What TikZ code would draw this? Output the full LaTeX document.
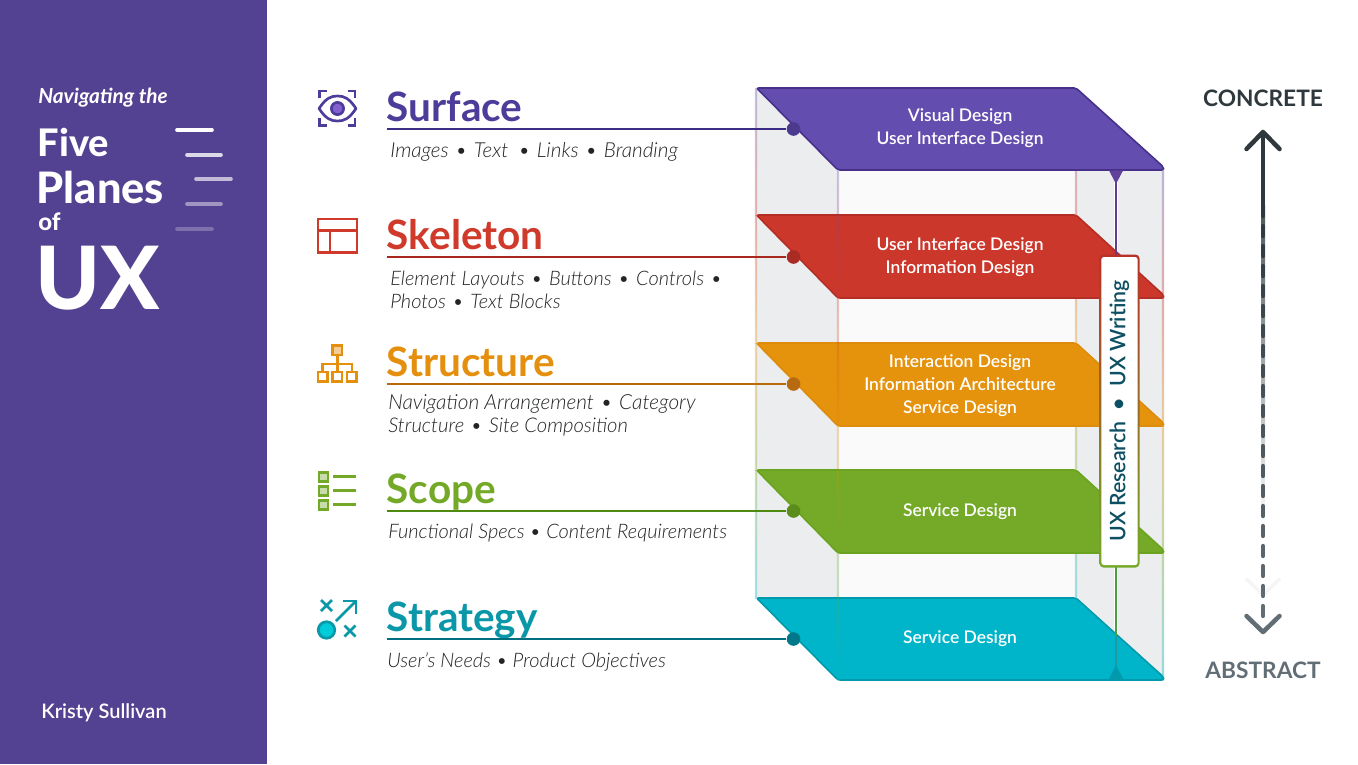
\documentclass[tikz,border=0pt]{standalone}
\usepackage{fontspec}
\setmainfont{Lato}
\newfontfamily\latol[ItalicFont={Lato Light Italic}]{Lato Light}
\newfontfamily\latom{Lato Semibold}
\newfontfamily\latoh{Lato Heavy}
\definecolor{panel}{HTML}{534191}
\definecolor{cpur}{HTML}{634EB0}\definecolor{cred}{HTML}{CC372C}\definecolor{cora}{HTML}{E5920D}\definecolor{cgre}{HTML}{74AA28}\definecolor{ctea}{HTML}{00B5C9}
\definecolor{epur}{HTML}{47308A}\definecolor{ered}{HTML}{B52E24}\definecolor{eora}{HTML}{DD8C0C}\definecolor{egre}{HTML}{69A31F}\definecolor{etea}{HTML}{009AAC}
\definecolor{lpur}{HTML}{3D2C85}\definecolor{lred}{HTML}{A82820}\definecolor{lora}{HTML}{B8690A}\definecolor{lgre}{HTML}{4F8A10}\definecolor{ltea}{HTML}{006D80}
\definecolor{dpur}{HTML}{4B3A8E}\definecolor{dred}{HTML}{AA2A24}\definecolor{dora}{HTML}{B86A10}\definecolor{dgre}{HTML}{5B8D1A}\definecolor{dtea}{HTML}{00788A}
\definecolor{tpur}{HTML}{4E3C9A}\definecolor{tred}{HTML}{CF3A2B}\definecolor{tora}{HTML}{E58F0E}\definecolor{tgre}{HTML}{74A927}\definecolor{ttea}{HTML}{0A97A8}
\definecolor{sidegray}{HTML}{ECEDEF}\definecolor{backw}{HTML}{FAFAFB}
\definecolor{arrdark}{HTML}{2F383D}\definecolor{arrlow}{HTML}{626E75}\definecolor{uxtext}{HTML}{0D4F63}\definecolor{subt}{HTML}{222426}
\definecolor{eyefill}{HTML}{8360D0}
\definecolor{ltop}{HTML}{5F3D90}\definecolor{lbot}{HTML}{4AA03C}\definecolor{lin}{HTML}{1C9AA2}
\newcommand{\sepd}{\kern1pt•\kern1pt}
\tikzset{
 x=0.75pt,y=-0.75pt,
 titletext/.style={anchor=base west,inner sep=0pt,font=\fontsize{30.4}{33}\selectfont\bfseries},
 subtext/.style={anchor=base west,inner sep=0pt,font=\latol\fontsize{15}{18}\selectfont\itshape,text=subt},
 planetext/.style={white,inner sep=0pt,align=center,font=\latom\fontsize{13.1}{17.25}\selectfont},
 paneltext/.style={white,anchor=base west,inner sep=0pt},
 leader/.style={line width=2.2pt},
 planedot/.style={circle,inner sep=0pt,minimum size=10.2pt},
 planeshape/.style={line width=1.2pt,rounded corners=1.5pt,line join=round},
 panelbar/.style={white,line width=2.7pt,line cap=round},
 iconline/.style={line width=2pt},
 arrowhead/.style={line width=3.4pt,line cap=round,line join=round},
 dashpiece/.style={line width=3.2pt,line cap=round},
}
\begin{document}
\begin{tikzpicture}
\useasboundingbox (0,0) rectangle (1358,764);
\fill[white] (0,0) rectangle (1358,764);
\fill[panel] (0,0) rectangle (267,764);
% panel text
\node[paneltext,font=\fontsize{15.6}{18}\selectfont\bfseries\itshape] (nav) at (38,103) {Navigating the};
\node[paneltext,font=\latoh\fontsize{28.5}{30}\selectfont] (five) at (37.5,156) {Five};
\node[paneltext,font=\latoh\fontsize{32.5}{34}\selectfont] (planes) at (36.5,203) {Planes};
\node[paneltext,font=\latoh\fontsize{18}{20}\selectfont] (of) at (38,230) {of};
\node[paneltext,font=\latoh\fontsize{65.5}{68}\selectfont] (ux) at (35,309) {UX};
\node[paneltext,font=\latom\fontsize{15}{18}\selectfont] (author) at (41,718) {Kristy Sullivan};
\draw[panelbar] (177,130) -- (212,130);
\draw[panelbar,opacity=.8] (187,155) -- (221,155);
\draw[panelbar,opacity=.65] (196,179) -- (231,179);
\draw[panelbar,opacity=.45] (187,204) -- (221,204);
\draw[panelbar,opacity=.25] (177,229) -- (212,229);
% cube faces
\fill[backw] (838,170) rectangle (1076,598);
\fill[sidegray] (756,88) -- (838,170) -- (838,680) -- (756,598) -- cycle;
\fill[sidegray] (1076,88) -- (1164,170) -- (1164,680) -- (1076,598) -- cycle;
% edges behind the planes
\foreach \xx/\bx in {756/0,1076/0}{
 \foreach \ya/\yb/\ca/\cb in {88/215/cpur/cred,215/343/cred/cora,343/470/cora/cgre,470/598/cgre/ctea}{
  \shade[opacity=.35,top color=\ca,bottom color=\cb] (\xx-1.2,\ya) rectangle (\xx+1.2,\yb);
 }
}
\foreach \ya/\yb/\ca/\cb in {170/298/cpur/cred,298/426/cred/cora,426/553/cora/cgre,553/680/cgre/ctea}{
  \shade[opacity=.35,top color=\ca,bottom color=\cb] (1161.8,\ya) rectangle (1164.2,\yb);
}
% vertical UX line halos
\draw[white,line width=3.6pt] (1116,170) -- (1116,256);
\draw[white,line width=3.6pt] (1116,566) -- (1116,640);
% planes
\foreach \t/\b/\f/\e in {88/170/cpur/epur,215/298/cred/ered,343/426/cora/eora,470/553/cgre/egre,598/680/ctea/etea}{
 \filldraw[planeshape,fill=\f,draw=\e] (756.5,\t) -- (1076,\t) -- (1163.5,\b-3) -- (1163.5,\b) -- (838,\b) -- cycle;
}
% front-left edge over planes
\foreach \ya/\yb/\ca/\cb in {170/298/cpur/cred,298/426/cred/cora,426/553/cora/cgre,553/680/cgre/ctea}{
  \shade[opacity=.3,top color=\ca,bottom color=\cb] (836.8,\ya) rectangle (839.2,\yb);
}
% plane labels
\node[planetext] (p1) at (960,128) {Visual Design\\User Interface Design};
\node[planetext] (p2) at (960,257.5) {User Interface Design\\Information Design};
\node[planetext] (p3) at (960,386) {Interaction Design\\Information Architecture\\Service Design};
\node[planetext] (p4) at (960,512) {Service Design};
\node[planetext] (p5) at (960,639) {Service Design};
% titles, leaders
\foreach \nm/\txt/\yb/\tc/\lc/\dc/\yl in {surface/Surface/121/tpur/lpur/dpur/129,skeleton/Skeleton/249/tred/lred/dred/257,structure/Structure/376/tora/lora/dora/384,scope/Scope/503/tgre/lgre/dgre/511,strategy/Strategy/631/ttea/ltea/dtea/639}{
 \node[titletext,text=\tc] (\nm T) at (386.5,\yb) {\txt};
 \coordinate (\nm L) at (387,\yl);
 \node[planedot,fill=\dc] (\nm D) at (793.5,\yl) {};
 \draw[leader,draw=\lc] (\nm L) -- (\nm D);
}
% sub text
\node[subtext,font=\latol\fontsize{15.5}{18}\selectfont\itshape] (s1) at (390,157) {Images \sepd{} Text \,\sepd{} Links \sepd{} Branding};
\node[subtext] (s2a) at (390,285) {Element Layouts \sepd{} Buttons \sepd{} Controls \sepd};
\node[subtext] (s2b) at (390,308) {Photos \sepd{} Text Blocks};
\node[subtext,font=\latol\fontsize{15.6}{18}\selectfont\itshape] (s3a) at (388,409) {Navigation Arrangement \sepd{} Category};
\node[subtext,font=\latol\fontsize{15.2}{18}\selectfont\itshape] (s3b) at (388,432) {Structure \sepd{} Site Composition};
\node[subtext] (s4) at (388,538) {Functional Specs • Content Requirements};
\node[subtext] (s5) at (387,667) {User’s Needs • Product Objectives};
% UX connector lines
\coordinate (uxA) at (1116,170);\coordinate (uxB) at (1116,256);
\coordinate (uxC) at (1116,566);\coordinate (uxD) at (1116,636);\coordinate (uxE) at (1116,680);
\draw[ltop,line width=1.7pt] (uxA) -- (uxB);
\draw[lbot,line width=1.7pt] (uxC) -- (uxD);
\draw[lin,line width=1.7pt] (uxD) -- (uxE);
\fill[ltop!70!cpur] (1109,170.5) -- (1123,170.5) -- (1116,184) -- cycle;
\fill[etea] (1109,679) -- (1123,679) -- (1116,665) -- cycle;
% UX box
\shade[rounded corners=3pt,top color=cred!90!black,middle color=cora,bottom color=cgre] (1099.5,254.5) rectangle (1139.5,567.5);
\node[fill=white,rounded corners=2pt,rotate=90,inner sep=0pt,minimum width=231pt,minimum height=27.3pt,font=\latom\fontsize{16}{18}\selectfont,text=uxtext] (uxbox) at (1119.5,411) {UX Research \;•\; UX Writing};
% icons
\begin{scope}[tpur,iconline]
 \draw (319.5,98) -- (319.5,91) -- (326.5,91);
 \draw (347.5,91) -- (355,91) -- (355,98);
 \draw (319.5,118) -- (319.5,125.5) -- (326.5,125.5);
 \draw (347.5,125.5) -- (355,125.5) -- (355,118);
 \draw[line join=round] (319,108.5) .. controls (326,98) and (331,96) .. (337.5,96) .. controls (344,96) and (349,98) .. (356,108.5) .. controls (349,119) and (344,121) .. (337.5,121) .. controls (331,121) and (326,119) .. (319,108.5) -- cycle;
 \filldraw[fill=eyefill] (337.5,108.5) circle (4.6pt);
\end{scope}
\begin{scope}[tred,iconline]
 \draw (318,219) rectangle (357,252.5);
 \draw (318,230.5) -- (357,230.5);
 \draw (330,230.5) -- (330,252.5);
\end{scope}
\begin{scope}[tora,iconline]
 \filldraw[fill=tora!45!white] (332.5,345.5) rectangle (342,355);
 \draw (337.2,355) -- (337.2,372);
 \draw (322.5,372) -- (322.5,364) -- (352,364) -- (352,372);
 \draw (318,372) rectangle (327.5,381.5);
 \draw (332.5,372) rectangle (342,381.5);
 \draw (347,372) rectangle (356.5,381.5);
\end{scope}
\begin{scope}[tgre,iconline]
 \foreach \yy in {477,491,505}{
  \filldraw[fill=tgre!40!white] (319,\yy-4.7) rectangle (328,\yy+4.7);
  \draw (333,\yy-0.5) -- (356,\yy-0.5);
 }
\end{scope}
\begin{scope}[ttea,iconline]
 \draw (321,600) -- (332,611) (332,600) -- (321,611);
 \draw (344.5,625.5) -- (355.5,636.5) (355.5,625.5) -- (344.5,636.5);
 \draw (336,621) -- (356,601);
 \draw (343,601) -- (356,601) -- (356,614);
 \filldraw[fill=ctea!70!cyan] (326.5,630) circle (6.2pt);
\end{scope}
% concrete / abstract arrow
\shade[top color=arrdark!85!white,bottom color=white] (1261,205) rectangle (1265,530);
\draw[arrdark,line width=3.2pt] (1263,132) -- (1263,205);
\draw[line width=2.6pt,line cap=round,line join=round,black!4] (1246.5,579) -- (1263,595) -- (1279.5,579);
\foreach \k in {0,...,20}{
 \pgfmathtruncatemacro{\mixv}{100-\k*5}
 \colorlet{dcol}{arrdark!\mixv!arrlow}
 \draw[dashpiece,dcol] (1263,206+\k*20) -- (1263,216+\k*20);
}
\draw[arrowhead,arrdark] (1246.5,149) -- (1263,132) -- (1279.5,149);
\draw[arrowhead,arrlow] (1246.5,616) -- (1263,632) -- (1279.5,616);
\node[anchor=base,inner sep=0pt,font=\fontsize{17}{18}\selectfont\bfseries,text=arrdark] (conc) at (1263,106.5) {CONCRETE};
\node[anchor=base,inner sep=0pt,font=\fontsize{17}{18}\selectfont\bfseries,text=arrlow] (abst) at (1263,678.5) {ABSTRACT};
\end{tikzpicture}
\end{document}
